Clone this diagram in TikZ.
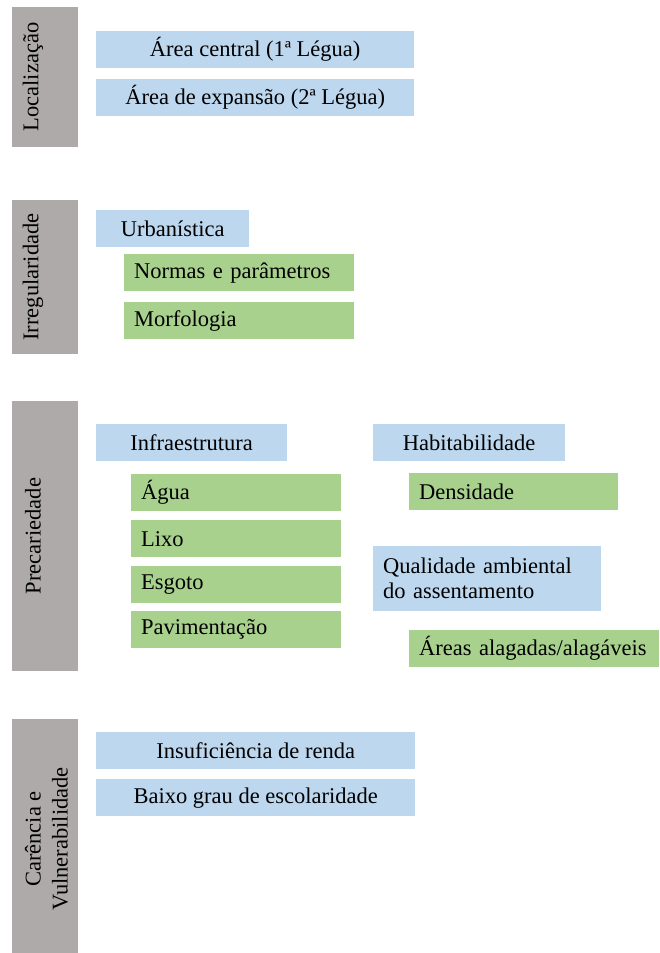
\documentclass[tikz,border=0pt]{standalone}
\usepackage{fontspec}
\setmainfont{Liberation Serif}

\definecolor{barGray}{HTML}{AEAAAA}
\definecolor{boxBlue}{HTML}{BDD7EE}
\definecolor{boxGreen}{HTML}{A9D18E}

\newcommand{\boxfont}{\fontsize{22.5}{27}\selectfont}

\tikzset{
  catbar/.style={fill=barGray, inner sep=0pt, anchor=north west, minimum width=66pt},
  catlabel/.style={rotate=90, align=center, inner sep=0pt},
  bluebox/.style={fill=boxBlue, inner sep=0pt, anchor=north west, minimum height=37pt},
  greenbox/.style={fill=boxGreen, inner ysep=0pt, inner xsep=10pt, anchor=north west,
                   minimum height=37pt, align=left},
}

\begin{document}
\begin{tikzpicture}[x=1pt, y=-1pt, font=\boxfont]
      \useasboundingbox (0,0) rectangle (659,953);

      % Localizacao
      \node[catbar, minimum height=140pt] (locbar) at (12,7) {};
      \node[catlabel] (loclabel) at (33,77) {Localização};
      \node[bluebox, minimum width=318pt] (central) at (96,31) {Área central (1ª Légua)};
      \node[bluebox, minimum width=318pt] (expansao) at (96,79) {Área de expansão (2ª Légua)};

      % Irregularidade
      \node[catbar, minimum height=154pt] (irrbar) at (12,200) {};
      \node[catlabel] (irrlabel) at (33,277) {Irregularidade};
      \node[bluebox, minimum width=153pt] (urb) at (96,210) {Urbanística};
      \node[greenbox, text width=210pt] (normas) at (124,254) {Normas e parâmetros};
      \node[greenbox, text width=210pt] (morf) at (124,302) {Morfologia};

      % Precariedade
      \node[catbar, minimum height=270pt] (precbar) at (12,401) {};
      \node[catlabel] (preclabel) at (33,536) {Precariedade};
      \node[bluebox, minimum width=191pt] (infra) at (96,424) {Infraestrutura};
      \node[greenbox, text width=190pt] (agua) at (131,474) {Água};
      \node[greenbox, text width=190pt] (lixo) at (131,520) {Lixo};
      \node[greenbox, text width=190pt] (esgoto) at (131,566) {Esgoto};
      \node[greenbox, text width=190pt] (pav) at (131,611) {Pavimentação};

      \node[bluebox, minimum width=192pt] (habit) at (373,424) {Habitabilidade};
      \node[greenbox, text width=189pt] (dens) at (409,473) {Densidade};
      \node[bluebox, minimum height=65pt, text width=208pt, inner xsep=10pt, align=left,
            font=\fontsize{22.5}{25}\selectfont] (qual) at (373,546)
            {Qualidade ambiental\\do assentamento};
      \node[greenbox, text width=230pt] (alag) at (409,630) {Áreas alagadas/alagáveis};

      % Carencia e Vulnerabilidade
      \node[catbar, minimum height=234pt] (carbar) at (12,719) {};
      \node[catlabel] (carlabel) at (46.5,839) {Carência e\\Vulnerabilidade};
      \node[bluebox, minimum width=319pt] (renda) at (96,732) {Insuficiência de renda};
      \node[bluebox, minimum width=319pt] (escol) at (96,779) {Baixo grau de escolaridade};
\end{tikzpicture}
\end{document}
